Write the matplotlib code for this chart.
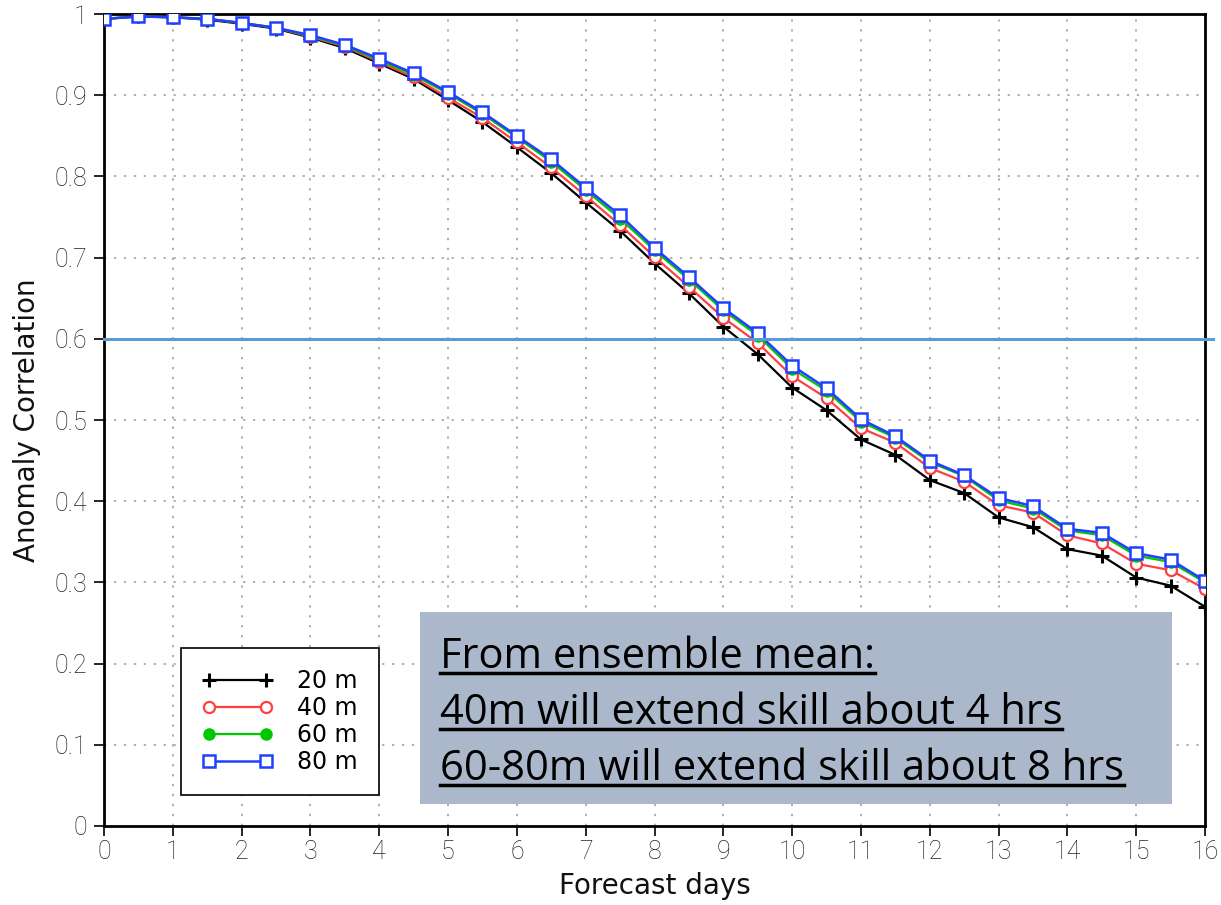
import matplotlib
matplotlib.use("Agg")
import matplotlib.pyplot as plt
from matplotlib.lines import Line2D
from matplotlib.patches import Rectangle

# forecast lead time (days), every 12 h
days = [i * 0.5 for i in range(33)]

ac_20m = [0.994, 0.997, 0.996, 0.993, 0.988, 0.982, 0.971, 0.958, 0.939, 0.920, 0.894,
          0.867, 0.836, 0.804, 0.768, 0.733, 0.693, 0.656, 0.615, 0.581, 0.540, 0.512,
          0.476, 0.457, 0.426, 0.410, 0.380, 0.368, 0.341, 0.333, 0.306, 0.296, 0.270]
ac_40m = [0.994, 0.997, 0.996, 0.994, 0.989, 0.983, 0.972, 0.960, 0.941, 0.922, 0.897,
          0.872, 0.842, 0.811, 0.776, 0.740, 0.701, 0.664, 0.626, 0.595, 0.554, 0.527,
          0.490, 0.472, 0.441, 0.424, 0.395, 0.386, 0.358, 0.348, 0.323, 0.315, 0.292]
ac_60m = [0.994, 0.997, 0.996, 0.994, 0.989, 0.983, 0.973, 0.961, 0.943, 0.925, 0.902,
          0.877, 0.848, 0.818, 0.783, 0.748, 0.709, 0.673, 0.635, 0.604, 0.563, 0.536,
          0.498, 0.478, 0.448, 0.431, 0.401, 0.391, 0.364, 0.358, 0.333, 0.325, 0.300]
ac_80m = [0.994, 0.997, 0.996, 0.994, 0.989, 0.983, 0.974, 0.962, 0.945, 0.927, 0.904,
          0.879, 0.850, 0.821, 0.786, 0.752, 0.712, 0.676, 0.638, 0.607, 0.567, 0.539,
          0.501, 0.480, 0.450, 0.432, 0.404, 0.394, 0.366, 0.361, 0.336, 0.328, 0.302]

labels = ["20 m", "40 m", "60 m", "80 m"]
threshold = 0.6
note_lines = ["From ensemble mean:",
              "40m will extend skill about 4 hrs",
              "60-80m will extend skill about 8 hrs"]

fig = plt.figure(figsize=(12.21, 9.05), dpi=100)
ax = fig.add_axes([0.0852, 0.0873, 0.9017, 0.8972])

ax.plot(days, ac_20m, color="black", lw=1.6, marker="+", ms=10, mew=2.2, label=labels[0], zorder=3)
ax.plot(days, ac_40m, color="#ff4040", lw=1.6, marker="o", ms=8, mew=1.6, mfc="white", label=labels[1], zorder=4)
ax.plot(days, ac_60m, color="#00c800", lw=1.6, marker="o", ms=8, mec="#00c800", label=labels[2], zorder=5)
ax.plot(days, ac_80m, color="#2040ff", lw=1.8, marker="s", ms=9, mew=1.8, mfc="white", label=labels[3], zorder=6)

ax.axhline(threshold, xmin=0, xmax=1.0073, color="#5b9bd5", lw=2.2, clip_on=False, zorder=7)

ax.set_xlim(0, 16)
ax.set_ylim(0, 1)
ax.set_xticks(range(17))
ax.set_yticks([i / 10 for i in range(11)])
ax.set_yticklabels(["0"] + ["0.%d" % i for i in range(1, 10)] + ["1"])
ax.tick_params(direction="out", length=7, width=1.2, colors="black", labelcolor="#222222",
               labelsize=18)
ax.tick_params(axis="y", pad=5)
ax.tick_params(axis="x", pad=3)
for lab in ax.get_xticklabels() + ax.get_yticklabels():
    lab.set_family(["Roboto", "DejaVu Sans"])
    lab.set_weight("light")
ax.grid(True, color="#9a9a9a", ls=(0, (1.5, 5)), lw=1.1)
for s in ax.spines.values():
    s.set_linewidth(2)

ax.set_xlabel("Forecast days", fontsize=20, labelpad=6, color="#111111")
ax.set_ylabel("Anomaly Correlation", fontsize=20, labelpad=10, color="#111111")

leg = ax.legend(loc="lower left", bbox_to_anchor=(0.07, 0.038), borderaxespad=0,
                fontsize=17, numpoints=2, handlelength=3.0, handletextpad=1.0, frameon=True,
                fancybox=False, edgecolor="black", framealpha=1, borderpad=0.9,
                labelspacing=0.12)
leg.get_frame().set_linewidth(1.2)

# annotation box
ax.add_patch(Rectangle((4.59, 0.027), 10.93, 0.2365, facecolor="#abb7ca",
                       edgecolor="none", zorder=8))
base_y = [0.195, 0.126, 0.057]
texts = []
for line, y in zip(note_lines, base_y):
    t = ax.text(4.88, y, line, fontsize=30, family=["Open Sans", "DejaVu Sans"],
                va="baseline", ha="left", color="black", zorder=9)
    texts.append(t)

# underline each annotation line
fig.canvas.draw()
r = fig.canvas.get_renderer()
inv = fig.transFigure.inverted()
for t in texts:
    bb = t.get_window_extent(renderer=r)
    x0, _ = inv.transform((bb.x0, 0))
    x1, _ = inv.transform((bb.x1, 0))
    _, yb = inv.transform(ax.transData.transform((0, t.get_position()[1])))
    yu = yb - 5 / 905
    fig.add_artist(Line2D([x0, x1], [yu, yu], transform=fig.transFigure, color="black",
                          lw=2.5, zorder=10))

fig.savefig("out.png", dpi=100)
